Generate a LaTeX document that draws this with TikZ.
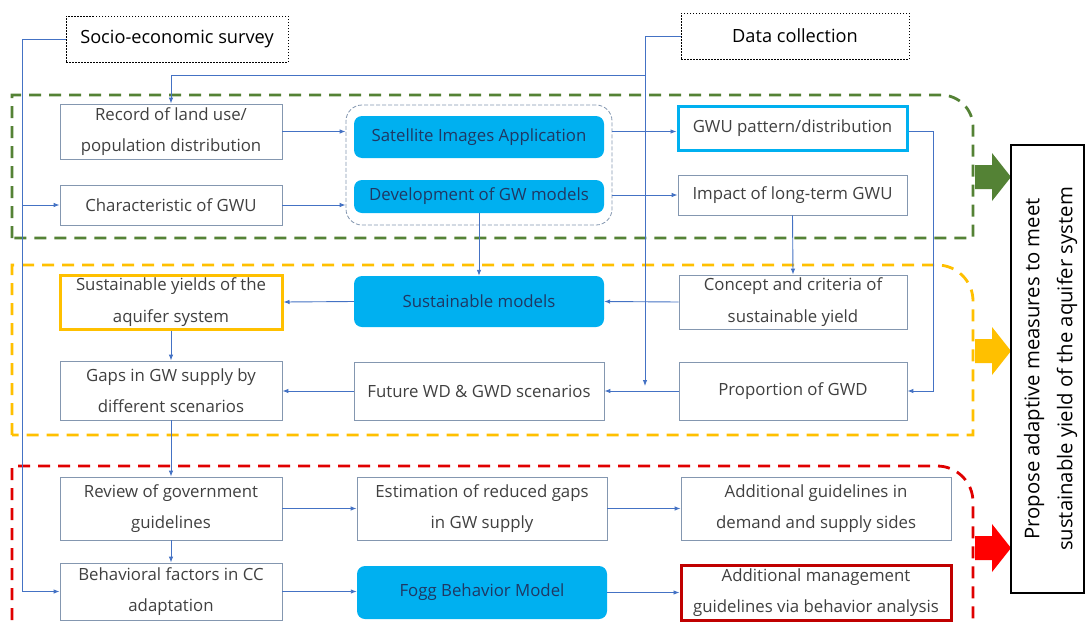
\documentclass[tikz,border=0pt]{standalone}
\usepackage{fontspec}
\setmainfont{Open Sans}
\usetikzlibrary{arrows.meta}
\definecolor{conncol}{HTML}{4472C4}
\definecolor{bordcol}{HTML}{8497B0}
\definecolor{txtcol}{HTML}{404040}
\definecolor{cyanfill}{HTML}{00B0F0}
\definecolor{navytxt}{HTML}{1F3864}
\definecolor{grnc}{HTML}{548235}
\definecolor{ylwc}{HTML}{FFC000}
\definecolor{redc}{HTML}{E00000}
\definecolor{redbox}{HTML}{C00000}
\begin{document}
\begin{tikzpicture}[x=1pt,y=-1pt,
  box/.style={draw=bordcol, line width=0.8pt, text=txtcol, align=center, inner sep=0pt, font=\fontsize{16.8}{31.5}\selectfont},
  bluebox/.style={fill=cyanfill, draw=none, rounded corners=8pt, text=navytxt, align=center, inner sep=0pt, font=\fontsize{16.8}{31.5}\selectfont},
  dotbox/.style={draw=black, line width=0.7pt, dash pattern=on 1.5pt off 1.5pt, text=black, inner sep=0pt, font=\fontsize{18.2}{30}\selectfont},
  conn/.style={draw=conncol, line width=0.9pt, -{Latex[length=6pt,width=4.5pt]}},
  region/.style={line width=2.8pt, dash pattern=on 12pt off 8pt}
]
\useasboundingbox (0,0) rectangle (1086,624);
\fill[white] (0,0) rectangle (1086,624);

% dashed regions
\draw[region, draw=grnc] (12,238) -- (12,95) -- (941,95) .. controls (958.7,95) and (973,109.3) .. (973,127) -- (973,238) -- cycle;
\draw[region, draw=ylwc] (12,435) -- (12,265) -- (937,265) .. controls (956.9,265) and (973,281.1) .. (973,301) -- (973,435) -- cycle;
\draw[region, draw=redc] (12,640) -- (12,466) -- (937,466) .. controls (956.9,466) and (973,482.1) .. (973,502) -- (973,640);

% block arrows
\fill[grnc] (975,165) -- (992,165) -- (992,153) -- (1011,177) -- (992,201) -- (992,189) -- (975,189) -- cycle;
\fill[ylwc] (975,339) -- (992,339) -- (992,327) -- (1011,351) -- (992,375) -- (992,363) -- (975,363) -- cycle;
\fill[red] (975,536) -- (992,536) -- (992,524) -- (1011,548) -- (992,572) -- (992,560) -- (975,560) -- cycle;

% top boxes
\node[dotbox, minimum width=222pt, minimum height=46pt] (soc) at (177,39) {Socio-economic survey};
\node[dotbox, minimum width=228pt, minimum height=46pt] (data) at (795,36) {Data collection};

% green section
\node[box, minimum width=222pt, minimum height=55pt] (rec) at (171,131.5) {Record of land use/\\population distribution};
\node[box, minimum width=222pt, minimum height=40pt] (chr) at (171,205) {Characteristic of GWU};
\node[draw=bordcol, line width=0.8pt, dash pattern=on 4pt off 2pt, rounded corners=16pt, minimum width=266pt, minimum height=120pt, inner sep=0pt] (grp) at (479,165) {};
\node[bluebox, minimum width=250pt, minimum height=42pt] (sat) at (479,137) {Satellite Images Application};
\node[bluebox, minimum width=250pt, minimum height=33pt] (dev) at (479,196.5) {Development of GW models};
\node[box, draw=cyanfill, line width=3pt, minimum width=229pt, minimum height=44pt] (gwu) at (792.5,128) {GWU pattern/distribution};
\node[box, minimum width=229pt, minimum height=40pt] (imp) at (792.5,195) {Impact of long-term GWU};

% yellow section
\node[box, draw=ylwc, line width=3pt, minimum width=222pt, minimum height=54pt] (sy) at (171,302) {Sustainable yields of the\\aquifer system};
\node[bluebox, minimum width=250pt, minimum height=51pt] (sm) at (479,301.5) {Sustainable models};
\node[box, minimum width=228pt, minimum height=54pt] (cc) at (793,302) {Concept and criteria of\\sustainable yield};
\node[box, minimum width=222pt, minimum height=59pt] (gap) at (171,390.5) {Gaps in GW supply by\\different scenarios};
\node[box, minimum width=250pt, minimum height=58pt] (fut) at (479,391) {Future WD \& GWD scenarios};
\node[box, minimum width=228pt, minimum height=58pt] (pro) at (793,391) {Proportion of GWD};

% red section
\node[box, minimum width=222pt, minimum height=63pt] (rev) at (171,508.5) {Review of government\\guidelines};
\node[box, minimum width=250pt, minimum height=63pt] (est) at (482,508.5) {Estimation of reduced gaps\\in GW supply};
\node[box, minimum width=270pt, minimum height=63pt] (add) at (816,508.5) {Additional guidelines in\\demand and supply sides};
\node[box, minimum width=222pt, minimum height=57pt] (beh) at (171,591.5) {Behavioral factors in CC\\adaptation};
\node[bluebox, minimum width=250pt, minimum height=53pt] (fog) at (482,592.5) {Fogg Behavior Model};
\node[box, draw=redbox, line width=3pt, minimum width=270pt, minimum height=55pt] (mgm) at (816,592.5) {Additional management\\guidelines via behavior analysis};

% right box
\node[draw=black, line width=2.2pt, minimum width=73pt, minimum height=448pt, inner sep=0pt] (prop) at (1047.5,369) {};
\node[rotate=90, align=center, text=black, font=\fontsize{20.3}{33}\selectfont] (proptxt) at ([xshift=3pt]prop.center) {Propose adaptive measures to meet\\sustainable yield of the aquifer system};

% connectors
\coordinate (sb) at (22,591.5);
\draw[conn] (soc.west) -| (sb) -- (beh.west);
\draw[conn] (sb |- chr.west) -- (chr.west);
\coordinate (dend) at (645,386);
\coordinate (dv) at (645,75);
\draw[conn] (data.west) -| (dend);
\draw[conn] (dv) -| (rec.north);

\draw[conn] (rec.east) -- (rec.east -| grp.west);
\draw[conn] (chr.east) -- (chr.east -| grp.west);
\draw[conn] (grp.east |- rec.east) -- (gwu.west |- rec.east);
\draw[conn] (grp.east |- imp.west) -- (imp.west);
\draw[conn] (dev.south) -- (sm.north);
\draw[conn] (imp.south) -- (cc.north);
\coordinate (gr) at (933,131);
\draw[conn] (gwu.east |- gr) -- (gr) |- (pro.east);

\draw[conn] (cc.west) -- (sm.east);
\draw[conn] (sm.west) -- (sy.east);
\draw[conn] (sy.south) -- (gap.north);
\draw[conn] (pro.west) -- (fut.east);
\draw[conn] (fut.west) -- (fut.west -| gap.east);
\draw[conn] (gap.south) -- (rev.north);
\draw[conn] (rev.east) -- (est.west);
\draw[conn] (est.east) -- (add.west);
\draw[conn] (rev.south) -- (beh.north);
\draw[conn] (beh.east) -- (beh.east -| fog.west);
\draw[conn] (fog.east) -- (mgm.west);
\end{tikzpicture}
\end{document}
